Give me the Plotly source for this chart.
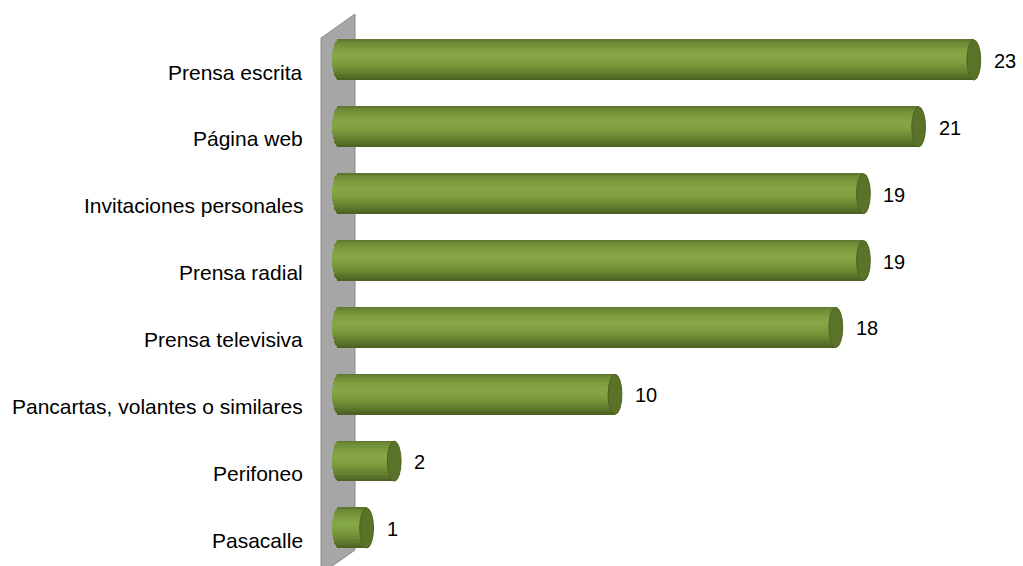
import plotly.graph_objects as go
import numpy as np

# ---- data ----
categories = ["Prensa escrita", "Página web", "Invitaciones personales", "Prensa radial",
              "Prensa televisiva", "Pancartas, volantes o similares", "Perifoneo", "Pasacalle"]
values = [23, 21, 19, 19, 18, 10, 2, 1]
value_labels = [str(v) for v in values]

# ---- geometry (pixel-based scale conversion) ----
W, H = 1023, 566
ML, MT = 300, 14
ZERO_PX = 339.0       # px position of value 0
PPU_X = 27.6          # px per value unit
Y0_PX = 60.0          # px of first category centre
PPU_Y = 66.86         # px per category step

def xd(px):
    return (px - ZERO_PX) / PPU_X

def yd(py):
    return (py - Y0_PX) / PPU_Y

x_range = [xd(ML), xd(W)]
y_range = [yd(H), yd(MT)]

RY = 0.30   # half bar height in category units
RX = 0.25   # cap half-width in value units

def hex2rgb(h):
    h = h.lstrip('#')
    return np.array([int(h[i:i + 2], 16) for i in (0, 2, 4)], dtype=float)

stops = [(-1.0, '#5b722d'), (-0.85, '#6d8a34'), (-0.5, '#7e9e3f'), (-0.2, '#87a847'),
         (0.2, '#7c9c3e'), (0.6, '#668330'), (0.9, '#536b26'), (1.0, '#495e20')]

def grad(t):
    for (t0, c0), (t1, c1) in zip(stops[:-1], stops[1:]):
        if t0 <= t <= t1:
            f = (t - t0) / (t1 - t0)
            c = hex2rgb(c0) * (1 - f) + hex2rgb(c1) * f
            return 'rgb(%d,%d,%d)' % tuple(np.round(c))
    return stops[-1][1]

fig = go.Figure()

idx = list(range(len(categories)))
N = 28
edges = np.linspace(-1, 1, N + 1)
for k in range(N):
    t_lo, t_hi = edges[k], edges[k + 1]
    tm = 0.5 * (t_lo + t_hi)
    start = -RX * np.sqrt(max(0.0, 1 - tm ** 2))
    fig.add_trace(go.Bar(
        y=idx,
        x=[v - start for v in values],
        base=[start] * len(values),
        orientation='h',
        offset=t_lo * RY,
        width=(t_hi - t_lo) * RY * 1.15,
        marker=dict(color=grad(tm), line=dict(width=0)),
        hoverinfo='skip',
        showlegend=False,
    ))

shapes = []
# back wall
shapes.append(dict(
    type='path', xref='x', yref='y', layer='below',
    path='M %f,%f L %f,%f L %f,%f L %f,%f Z' % (
        xd(321), yd(38), xd(355), yd(14), xd(355), yd(550), xd(321), yd(574)),
    fillcolor='#a6a6a6', line=dict(color='#8c8c8c', width=1)))
# right end caps
for i, v in zip(idx, values):
    shapes.append(dict(
        type='circle', xref='x', yref='y', layer='above',
        x0=v - RX, x1=v + RX, y0=i - RY, y1=i + RY,
        fillcolor='#5a7329', line=dict(color='#4e6423', width=1)))

annotations = []
FONT_CAT = dict(family='Liberation Sans, Arial, sans-serif', size=21, color='#000000')
FONT_VAL = dict(family='Liberation Sans, Arial, sans-serif', size=20, color='#000000')
for i, (c, v, lab) in enumerate(zip(categories, values, value_labels)):
    annotations.append(dict(
        xref='paper', yref='y', x=0, y=i, yshift=-12, xshift=5,
        text=c, showarrow=False, xanchor='right', yanchor='middle', font=FONT_CAT))
    annotations.append(dict(
        xref='x', yref='y', x=v, y=i, xshift=18, yshift=-1,
        text=lab, showarrow=False, xanchor='left', yanchor='middle', font=FONT_VAL))

fig.update_layout(
    width=W, height=H,
    margin=dict(l=ML, r=0, t=MT, b=0, pad=0),
    paper_bgcolor='white', plot_bgcolor='white',
    barmode='overlay', bargap=0,
    shapes=shapes, annotations=annotations,
    xaxis=dict(range=x_range, showgrid=False, zeroline=False, showticklabels=False,
               ticks='', showline=False, fixedrange=True),
    yaxis=dict(range=y_range, showgrid=False, zeroline=False, showticklabels=False,
               ticks='', showline=False, fixedrange=True),
    showlegend=False,
)

fig.write_html("out.html",
               config={'displayModeBar': False},
               post_script="document.body.style.margin='0px';document.body.style.overflow='hidden';")
